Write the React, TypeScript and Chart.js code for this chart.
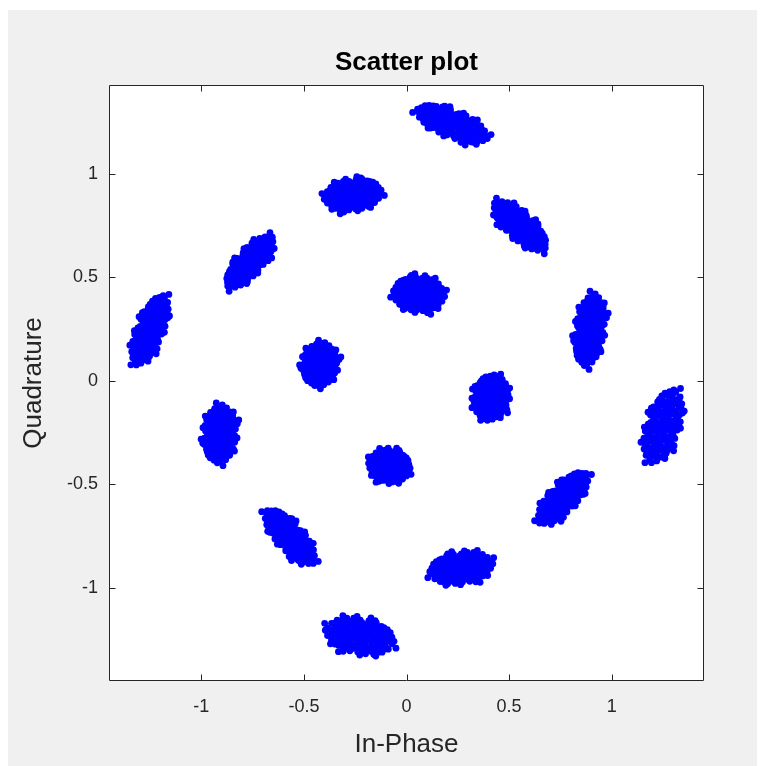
import { useEffect, useRef } from "react";
import { Chart, registerables } from "chart.js";

Chart.register(...registerables);

// Cluster centres (In-Phase / Quadrature)
const clusterI = [0.222, 0.553, 0.894, 1.25, 0.763, 0.266, -0.227, -0.568, -0.909, -1.25, -0.763, -0.261, 0.06, 0.412, -0.083, -0.422];
const clusterQ = [1.242, 0.749, 0.246, -0.218, -0.566, -0.904, -1.233, -0.754, -0.257, 0.246, 0.575, 0.899, 0.42, -0.08, -0.411, 0.08];
// Orientation of each cloud (degrees) and its half-length / half-width in data units
const clusterTilt = [-22, -42, 82, 72, 46, 8, -10, -48, 86, 68, 48, 8, -5, 80, -8, 78];
const clusterLong = [0.163, 0.146, 0.155, 0.163, 0.146, 0.137, 0.15, 0.15, 0.124, 0.159, 0.142, 0.124, 0.111, 0.098, 0.09, 0.094];
const clusterWide = [0.059, 0.059, 0.064, 0.072, 0.059, 0.068, 0.077, 0.059, 0.072, 0.059, 0.055, 0.068, 0.077, 0.077, 0.072, 0.077];
const clusterMirror = [1, -1, 1, -1, -1, 1, -1, 1, 1, -1, 1, -1, 1, -1, -1, 1];

// Hand-written noise sample (unit cloud): along-axis and across-axis offsets
const noiseAlong = [
  -0.97, -0.81, -0.63, -0.49, -0.31, -0.17, 0.01, 0.15, 0.33, 0.47, 0.65, 0.79, 0.95,
  -0.9, -0.71, -0.57, -0.39, -0.25, -0.07, 0.09, 0.23, 0.41, 0.55, 0.73, 0.86,
  -0.87, -0.73, -0.55, -0.41, -0.23, -0.09, 0.07, 0.25, 0.39, 0.57, 0.71, 0.89,
  -0.88, -0.71, -0.57, -0.39, -0.25, -0.07, 0.09, 0.23, 0.41, 0.55, 0.73, 0.87,
  -0.86, -0.73, -0.55, -0.41, -0.23, -0.09, 0.07, 0.25, 0.39, 0.57, 0.71, 0.89,
  -0.72, -0.63, -0.49, -0.31, -0.17, 0.01, 0.15, 0.33, 0.47, 0.66,
  -0.68, -0.47, -0.33, -0.15, 0.01, 0.17, 0.31, 0.49, 0.63, 0.74,
  -0.45, -0.2, 0.08, 0.3, 0.52,
  -0.55, -0.28, -0.02, 0.24, 0.44,
  0.82, -0.84, 0.8, -0.8,
  1.08, 1.04, 0.98, 0.9, 0.66, 0.2, -0.1, -0.4, -0.62, -0.95, -1.07, -1.03, 1.14, -1.12, -0.98, 0.45, 1.2, -0.25, 0.6, -1.22,
];
const noiseAcross = [
  0.04, -0.02, 0.03, -0.03, 0.02, -0.02, 0.03, -0.03, 0.02, -0.02, 0.03, -0.04, 0.05,
  0.26, 0.3, 0.27, 0.29, 0.26, 0.3, 0.27, 0.29, 0.26, 0.3, 0.27, 0.31,
  -0.31, -0.27, -0.29, -0.26, -0.3, -0.27, -0.29, -0.26, -0.3, -0.27, -0.29, -0.25,
  0.54, 0.58, 0.55, 0.57, 0.54, 0.58, 0.55, 0.57, 0.54, 0.58, 0.55, 0.52,
  -0.52, -0.57, -0.54, -0.58, -0.55, -0.57, -0.54, -0.58, -0.55, -0.57, -0.54, -0.55,
  0.78, 0.84, 0.8, 0.85, 0.82, 0.86, 0.81, 0.84, 0.8, 0.79,
  -0.79, -0.84, -0.8, -0.86, -0.82, -0.85, -0.81, -0.84, -0.8, -0.77,
  1.0, 1.03, 0.99, 1.04, 0.97,
  -0.98, -1.03, -1.0, -1.02, -0.97,
  0.74, 0.7, -0.72, -0.75,
  0.15, -0.32, 0.48, -0.8, 1.08, 1.18, -1.17, 1.12, -1.06, 0.55, -0.12, 0.28, -0.02, 0.05, -0.5, -1.12, 0.4, 1.25, -1.2, -0.35,
];

const xTickValues = [-1, -0.5, 0, 0.5, 1];
const yTickValues = [-1, -0.5, 0, 0.5, 1];
const xLimits = [-1.45, 1.45];
const yLimits = [-1.45, 1.43];

const FONT = "'Liberation Sans', Arial, Helvetica, sans-serif";
const AXIS_COLOR = "#262626";
const MARKER_COLOR = "#0000ff";

function buildPoints() {
  const pts: { x: number; y: number }[] = [];
  for (let k = 0; k < clusterI.length; k++) {
    const th = (clusterTilt[k] * Math.PI) / 180;
    const c = Math.cos(th);
    const s = Math.sin(th);
    for (let j = 0; j < noiseAlong.length; j++) {
      const t = noiseAlong[j] * clusterMirror[k] * clusterLong[k];
      const w = noiseAcross[j] * clusterWide[k];
      pts.push({ x: clusterI[k] + t * c - w * s, y: clusterQ[k] + t * s + w * c });
    }
  }
  return pts;
}

const boxPlugin = {
  id: "matlabBox",
  beforeDraw(chart: any) {
    const { ctx, chartArea } = chart;
    ctx.save();
    ctx.fillStyle = "#ffffff";
    ctx.fillRect(chartArea.left, chartArea.top, chartArea.right - chartArea.left, chartArea.bottom - chartArea.top);
    ctx.restore();
  },
  afterDraw(chart: any) {
    const { ctx, chartArea, scales } = chart;
    const L = Math.round(chartArea.left) + 0.5;
    const R = Math.round(chartArea.right) - 0.5;
    const T = Math.round(chartArea.top) + 0.5;
    const B = Math.round(chartArea.bottom) - 0.5;
    ctx.save();
    ctx.strokeStyle = AXIS_COLOR;
    ctx.lineWidth = 1;
    ctx.beginPath();
    ctx.rect(L, T, R - L, B - T);
    const tl = 6;
    for (const v of xTickValues) {
      const px = Math.round(scales.x.getPixelForValue(v)) + 0.5;
      ctx.moveTo(px, B);
      ctx.lineTo(px, B - tl);
      ctx.moveTo(px, T);
      ctx.lineTo(px, T + tl);
    }
    for (const v of yTickValues) {
      const py = Math.round(scales.y.getPixelForValue(v)) + 0.5;
      ctx.moveTo(L, py);
      ctx.lineTo(L + tl, py);
      ctx.moveTo(R, py);
      ctx.lineTo(R - tl, py);
    }
    ctx.stroke();
    ctx.restore();
  },
};

export default function App() {
  const ref = useRef<HTMLCanvasElement>(null);

  useEffect(() => {
    if (!ref.current) return;
    const chart = new Chart(ref.current, {
      type: "scatter",
      data: {
        datasets: [
          {
            label: "Channel 1",
            data: buildPoints(),
            backgroundColor: MARKER_COLOR,
            borderColor: MARKER_COLOR,
            borderWidth: 0,
            pointRadius: 3.4,
            pointHoverRadius: 3.4,
          },
        ],
      },
      plugins: [boxPlugin],
      options: {
        responsive: false,
        animation: false,
        events: [],
        layout: { padding: { top: 0, right: 53, bottom: 0, left: 0 } },
        plugins: {
          legend: { display: false },
          tooltip: { enabled: false },
          title: {
            display: true,
            text: "Scatter plot",
            fullSize: false,
            color: "#000000",
            font: { family: FONT, size: 26, weight: "bold", lineHeight: 1.2 },
            padding: { top: 37.2, bottom: 6.6 },
          },
        },
        scales: {
          x: {
            type: "linear",
            position: "bottom",
            min: xLimits[0],
            max: xLimits[1],
            afterBuildTicks: (s: any) => {
              s.ticks = xTickValues.map((v) => ({ value: v }));
            },
            afterFit: (s: any) => {
              s.height = 85;
            },
            grid: { display: false, drawTicks: false },
            border: { display: false },
            ticks: {
              color: AXIS_COLOR,
              font: { family: FONT, size: 18 },
              padding: 15,
              maxRotation: 0,
              autoSkip: false,
              callback: (v: any) => String(v),
            },
            title: {
              display: true,
              text: "In-Phase",
              color: AXIS_COLOR,
              font: { family: FONT, size: 26, lineHeight: 1.2 },
              padding: { top: 0, bottom: 6 },
            },
          },
          y: {
            type: "linear",
            position: "left",
            min: yLimits[0],
            max: yLimits[1],
            afterBuildTicks: (s: any) => {
              s.ticks = yTickValues.map((v) => ({ value: v }));
            },
            afterFit: (s: any) => {
              s.width = 101;
            },
            grid: { display: false, drawTicks: false },
            border: { display: false },
            ticks: {
              color: AXIS_COLOR,
              font: { family: FONT, size: 18 },
              padding: 11,
              autoSkip: false,
              callback: (v: any) => String(v),
            },
            title: {
              display: true,
              text: "Quadrature",
              color: AXIS_COLOR,
              font: { family: FONT, size: 26, lineHeight: 1.2 },
              padding: { top: 10, bottom: 0 },
            },
          },
        },
      } as any,
    });
    return () => chart.destroy();
  }, []);

  return (
    <div style={{ position: "fixed", left: 8, top: 10, width: 749, height: 756, background: "#f0f0f0" }}>
      <canvas ref={ref} width={749} height={756} style={{ display: "block", width: 749, height: 756 }} />
    </div>
  );
}
